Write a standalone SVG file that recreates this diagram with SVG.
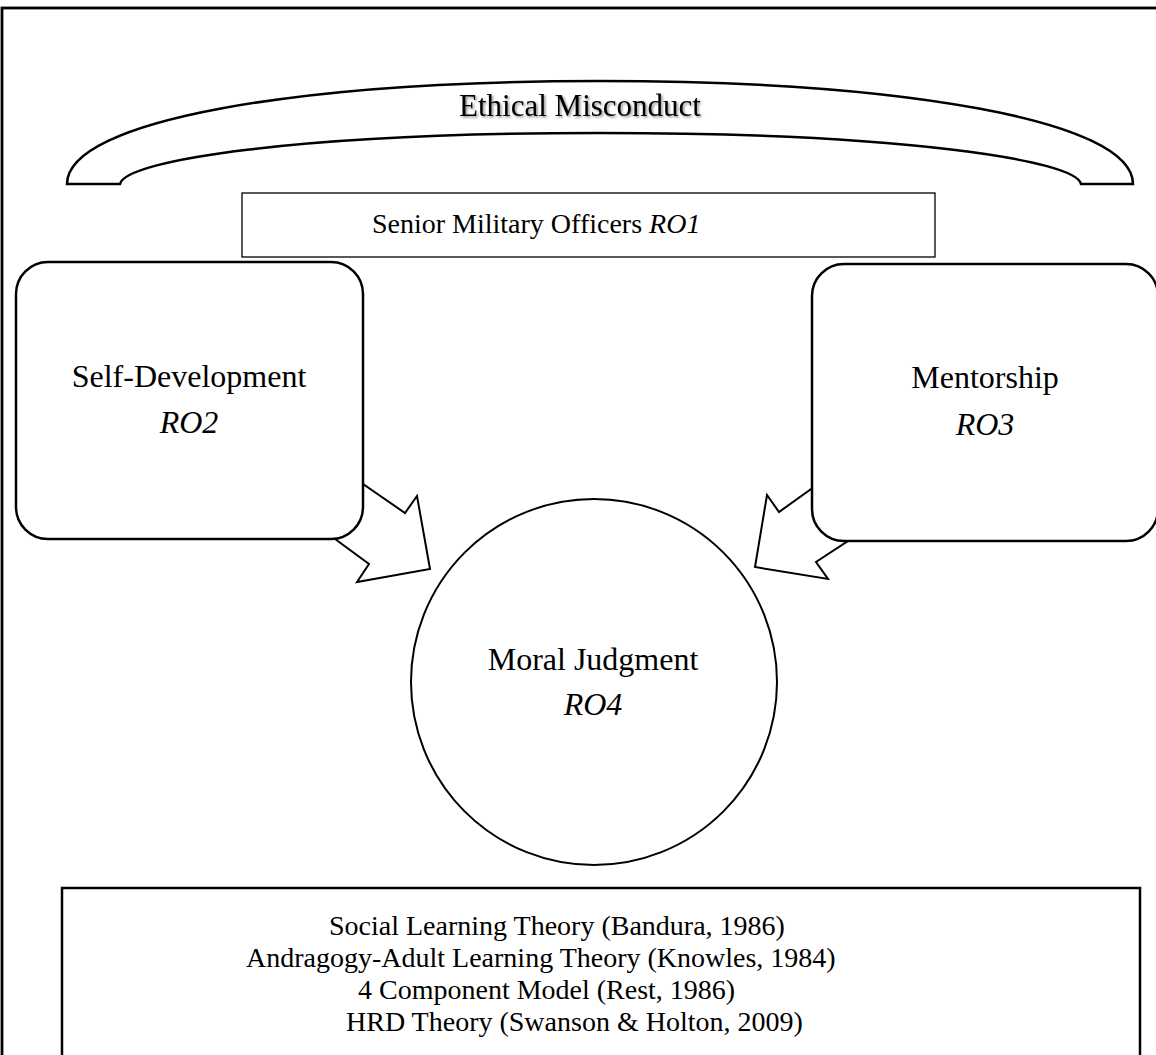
<svg xmlns="http://www.w3.org/2000/svg" width="1156" height="1055" viewBox="0 0 1156 1055">
<style>
.t{font-family:"Liberation Serif","Times New Roman",serif;fill:#000;}
.b{font-size:32px;}
.s{font-size:28px;}
.i{font-style:italic;}
.ln{fill:#fff;stroke:#000;stroke-width:2.5;}
.ar{fill:#fff;stroke:#000;stroke-width:2;stroke-linejoin:miter;}
</style>
<defs>
<filter id="sh" x="-10%" y="-30%" width="120%" height="160%">
<feDropShadow dx="1.5" dy="1.5" stdDeviation="1" flood-color="#000" flood-opacity="0.45"/>
</filter>
</defs>
<rect x="0" y="0" width="1156" height="1055" fill="#fff"/>
<rect id="frame" x="2" y="8" width="1170" height="1100" fill="none" stroke="#000" stroke-width="2.8"/>
<g id="misconduct">
<path class="ln" d="M67,184 C67,120 300,81 600,81 C900,81 1133,120 1133,184 L1081,184 C1076,160 900,133 600,133 C300,133 125,160 120,184 Z"/>
<text class="t" style="font-size:31px" x="580" y="116" text-anchor="middle" filter="url(#sh)">Ethical Misconduct</text>
</g>
<g id="officers">
<rect x="242" y="193" width="693" height="64" fill="#fff" stroke="#000" stroke-width="1.3"/>
<text class="t s" x="372" y="233">Senior Military Officers <tspan class="i">RO1</tspan></text>
</g>
<g id="connectors">
<polygon class="ar" points="321,455 405,513 417,496 430,569 357,582 369,564 301,514"/>
<polygon class="ar" points="860,454 779,512 767,495 755,567 828,579 816,562 880,520"/>
</g>
<g id="self-development">
<rect class="ln" x="16" y="262" width="347" height="277" rx="32" ry="32"/>
<text class="t b" x="189" y="387" text-anchor="middle">Self-Development</text>
<text class="t b i" x="189" y="433" text-anchor="middle">RO2</text>
</g>
<g id="mentorship">
<rect class="ln" x="812" y="264" width="346" height="277" rx="32" ry="32"/>
<text class="t b" x="985" y="388" text-anchor="middle">Mentorship</text>
<text class="t b i" x="985" y="435" text-anchor="middle">RO3</text>
</g>
<g id="moral-judgment">
<circle cx="594" cy="682" r="183" fill="#fff" stroke="#000" stroke-width="2"/>
<text class="t b" x="593" y="670" text-anchor="middle">Moral Judgment</text>
<text class="t b i" x="593" y="715" text-anchor="middle">RO4</text>
</g>
<g id="theories">
<rect class="ln" x="62" y="888" width="1078" height="200"/>
<text class="t s" x="329" y="935">Social Learning Theory (Bandura, 1986)</text>
<text class="t s" x="246" y="967">Andragogy-Adult Learning Theory (Knowles, 1984)</text>
<text class="t s" x="358" y="999">4 Component Model (Rest, 1986)</text>
<text class="t s" x="346" y="1031">HRD Theory (Swanson &amp; Holton, 2009)</text>
</g>
</svg>
